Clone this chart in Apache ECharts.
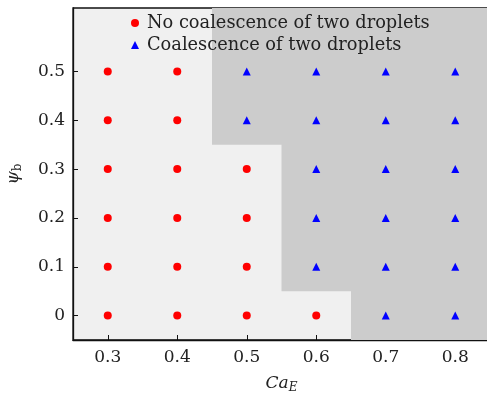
<!DOCTYPE html>
<html>
<head>
<meta charset="utf-8">
<script src="https://cdn.jsdelivr.net/npm/echarts@6/dist/echarts.min.js"></script>
<style>html,body{margin:0;padding:0;background:#fff}#c{width:487px;height:394px}</style>
</head>
<body>
<div id="c"></div>
<script>
const xTicks = [0.3, 0.4, 0.5, 0.6, 0.7, 0.8];
const yTicks = [0, 0.1, 0.2, 0.3, 0.4, 0.5];
const noCoalescence = [
  [0.3, 0], [0.3, 0.1], [0.3, 0.2], [0.3, 0.3], [0.3, 0.4], [0.3, 0.5],
  [0.4, 0], [0.4, 0.1], [0.4, 0.2], [0.4, 0.3], [0.4, 0.4], [0.4, 0.5],
  [0.5, 0], [0.5, 0.1], [0.5, 0.2], [0.5, 0.3],
  [0.6, 0]
];
const coalescence = [
  [0.5, 0.4], [0.5, 0.5],
  [0.6, 0.1], [0.6, 0.2], [0.6, 0.3], [0.6, 0.4], [0.6, 0.5],
  [0.7, 0], [0.7, 0.1], [0.7, 0.2], [0.7, 0.3], [0.7, 0.4], [0.7, 0.5],
  [0.8, 0], [0.8, 0.1], [0.8, 0.2], [0.8, 0.3], [0.8, 0.4], [0.8, 0.5]
];
// [x0, y0, x1, y1] rectangles of the coalescence region (top to bottom)
const coalescenceRegion = [
  [0.45, 0.35, 0.85, 0.63],
  [0.55, 0.05, 0.85, 0.35],
  [0.65, -0.05, 0.85, 0.05]
];
const seriesNames = ['No coalescence of two droplets', 'Coalescence of two droplets'];
const xRange = [0.25, 0.85];
const yRange = [-0.05, 0.63];

// outline of the stepped region built from the rectangles
function regionOutline(rects) {
  const pts = [[rects[0][2], rects[0][3]], [rects[0][0], rects[0][3]]];
  rects.forEach((r, i) => {
    pts.push([r[0], r[1]]);
    if (i + 1 < rects.length) pts.push([rects[i + 1][0], r[1]]);
  });
  const last = rects[rects.length - 1];
  pts.push([last[2], last[1]]);
  return pts;
}

const FONT = 'DejaVu Serif';
const TXT = '#222';
const chart = echarts.init(document.getElementById('c'));
chart.setOption({
  animation: false,
  grid: {left: 73, right: -3, top: 8, bottom: 54, outerBoundsMode: 'none', containLabel: false, show: true, backgroundColor: '#f0f0f0', borderColor: '#111', borderWidth: 1.3},
  legend: {
    data: seriesNames, orient: 'vertical', left: 126, top: 9, itemWidth: 8, itemHeight: 8, itemGap: 4,
    textStyle: {fontFamily: FONT, fontSize: 17.8, color: TXT, padding: [0, 0, 0, 3]}
  },
  xAxis: {
    type: 'value', min: xRange[0], max: xRange[1],
    name: '{i|Ca}{s|E}', nameLocation: 'middle', nameGap: 33,
    nameTextStyle: {rich: {i: {fontFamily: FONT, fontStyle: 'italic', fontSize: 17, color: TXT}, s: {fontFamily: FONT, fontStyle: 'italic', fontSize: 12, color: TXT, padding: [9, 0, 0, 0]}}},
    axisLine: {onZero: false, lineStyle: {color: '#111', width: 1.3}},
    axisTick: {inside: true, length: 5, customValues: xTicks, lineStyle: {color: '#111'}},
    axisLabel: {customValues: xTicks, margin: 9, fontFamily: FONT, fontSize: 17, color: TXT},
    splitLine: {show: false}
  },
  yAxis: {
    type: 'value', min: yRange[0], max: yRange[1],
    name: '{i|ψ}{s|b}', nameLocation: 'middle', nameGap: 49, nameRotate: 90,
    nameTextStyle: {rich: {i: {fontFamily: FONT, fontStyle: 'italic', fontSize: 17, color: TXT}, s: {fontFamily: FONT, fontSize: 12, color: TXT, padding: [9, 0, 0, 0]}}},
    axisLine: {onZero: false, lineStyle: {color: '#111', width: 1.3}},
    axisTick: {inside: true, length: 5, customValues: yTicks, lineStyle: {color: '#111'}},
    axisLabel: {customValues: yTicks, margin: 8, fontFamily: FONT, fontSize: 17, color: TXT},
    splitLine: {show: false}
  },
  series: [
    {
      type: 'custom', silent: true, z: 1, data: [0],
      renderItem: (params, api) => ({
        type: 'polygon',
        shape: {points: regionOutline(coalescenceRegion).map(p => api.coord(p))},
        style: {fill: '#cccccc'}
      })
    },
    {name: seriesNames[0], type: 'scatter', symbol: 'circle', symbolSize: 8, data: noCoalescence, itemStyle: {color: '#ff0000', opacity: 1}, z: 3},
    {name: seriesNames[1], type: 'scatter', symbol: 'triangle', symbolSize: 8, data: coalescence, itemStyle: {color: '#0000ff', opacity: 1}, z: 3}
  ]
});
</script>
</body>
</html>
